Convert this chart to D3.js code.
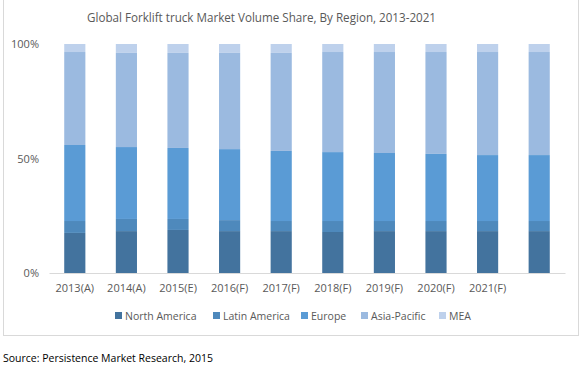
<!DOCTYPE html>
<html lang="en">
<head>
    <meta charset="UTF-8">
    <title>Global Forklift truck Market Volume Share</title>
    <script src="https://d3js.org/d3.v7.min.js"></script>
    <style>
        body { margin: 0; background: #fff; }
        text { font-family: "Open Sans", sans-serif; }
    </style>
</head>
<body>
    <div id="chart"></div>
    <script>
        const width = 580;
        const height = 366;

        // categories (last bar has no label in the original)
        const categories = ["2013(A)", "2014(A)", "2015(E)", "2016(F)", "2017(F)", "2018(F)", "2019(F)", "2020(F)", "2021(F)", ""];
        const regions = ["North America", "Latin America", "Europe", "Asia-Pacific", "MEA"];
        const colors = ["#43739e", "#4e89bc", "#5a9bd5", "#9bbae0", "#bed1ec"];

        // share in % per year
        const northAmerica = [17.5, 18.3, 18.8, 18.3, 18.3, 17.9, 18.3, 18.3, 18.3, 18.3];
        const latinAmerica = [5.2, 5.3, 4.8, 4.8, 4.4, 4.8, 4.4, 4.4, 4.4, 4.4];
        const europe = [33.2, 31.4, 31.0, 31.0, 30.6, 30.1, 29.7, 29.3, 28.8, 28.8];
        const asiaPacific = [40.6, 41.1, 41.5, 42.0, 42.8, 43.7, 44.1, 44.5, 45.0, 45.0];
        const mea = [3.5, 3.9, 3.9, 3.9, 3.9, 3.5, 3.5, 3.5, 3.5, 3.5];

        const yTicks = [0, 50, 100];

        const series = [northAmerica, latinAmerica, europe, asiaPacific, mea];
        const rows = categories.map((c, i) => {
            const r = { cat: c };
            regions.forEach((reg, j) => r[reg] = series[j][i]);
            return r;
        });
        const stacked = d3.stack().keys(regions)(rows);

        const svg = d3.select("#chart").append("svg")
            .attr("width", width)
            .attr("height", height);

        // chart frame
        svg.append("rect")
            .attr("x", 3.5).attr("y", -1)
            .attr("width", 575).attr("height", 336.5)
            .attr("fill", "#fff")
            .attr("stroke", "#d9d9d9");

        const x = d3.scaleBand()
            .domain(categories)
            .range([49, 565])
            .paddingInner(0.59)
            .paddingOuter(0.295);

        const y = d3.scaleLinear()
            .domain([0, 100])
            .range([273, 44]);

        svg.append("text")
            .attr("x", 261.5).attr("y", 22)
            .attr("text-anchor", "middle")
            .attr("fill", "#595959")
            .attr("textLength", 349)
            .attr("lengthAdjust", "spacingAndGlyphs")
            .style("font-size", "12.5px")
            .text("Global Forklift truck Market Volume Share, By Region, 2013-2021");

        // bars
        svg.append("g")
            .selectAll("g")
            .data(stacked)
            .join("g")
            .attr("fill", (d, i) => colors[i])
            .selectAll("rect")
            .data(d => d)
            .join("rect")
            .attr("x", d => x(d.data.cat))
            .attr("width", x.bandwidth())
            .attr("y", d => y(d[1]))
            .attr("height", d => y(d[0]) - y(d[1]));

        // x axis
        const xAxis = svg.append("g")
            .attr("transform", "translate(0,273)")
            .call(d3.axisBottom(x).tickSize(0).tickPadding(11));
        xAxis.select(".domain").attr("stroke", "#d9d9d9");
        xAxis.selectAll("text")
            .attr("fill", "#595959")
            .style("font-size", "11px")
            .style("font-family", "'Open Sans', sans-serif");

        // y axis
        const yAxis = svg.append("g")
            .attr("transform", "translate(39,0)")
            .call(d3.axisLeft(y).tickValues(yTicks).tickSize(0).tickPadding(0).tickFormat(d => d + "%"));
        yAxis.select(".domain").remove();
        yAxis.selectAll("text")
            .attr("fill", "#595959")
            .style("font-size", "11px")
            .style("font-family", "'Open Sans', sans-serif");

        // legend
        const legendX = [115, 213, 301, 361, 439];
        const legend = svg.append("g")
            .selectAll("g")
            .data(regions)
            .join("g")
            .attr("transform", (d, i) => `translate(${legendX[i]},312)`);
        legend.append("rect")
            .attr("width", 7).attr("height", 7)
            .attr("fill", (d, i) => colors[i]);
        legend.append("text")
            .attr("x", 10).attr("y", 7.5)
            .attr("fill", "#595959")
            .style("font-size", "10.5px")
            .text(d => d);

        svg.append("text")
            .attr("x", 3).attr("y", 362)
            .attr("fill", "#000")
            .style("font-size", "10.5px")
            .text("Source: Persistence Market Research, 2015");
    </script>
</body>
</html>
